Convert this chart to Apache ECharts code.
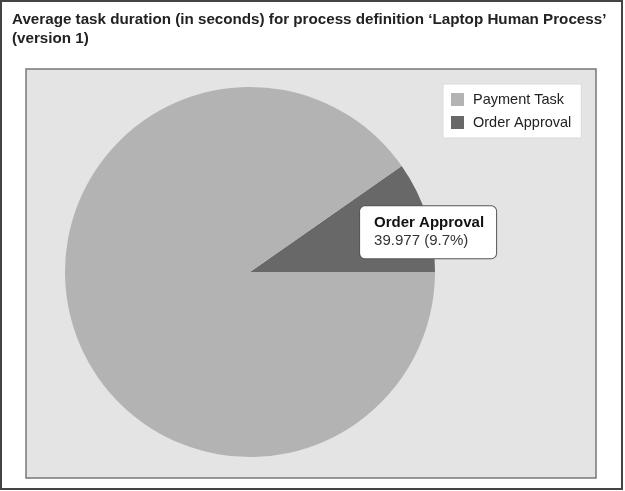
<!DOCTYPE html>
<html>
<head>
<meta charset="utf-8">
<script src="https://cdn.jsdelivr.net/npm/echarts@6/dist/echarts.min.js"></script>
<style>
html,body{margin:0;padding:0;background:#fff;}
#chart{width:625px;height:491px;}
</style>
</head>
<body>
<div id="chart"></div>
<script>
const titleText = "Average task duration (in seconds) for process definition \u2018Laptop Human Process\u2019\n(version 1)";
const categories = ['Payment Task', 'Order Approval'];
const durations = [372.15, 39.977];
const sliceColors = ['#b3b3b3', '#686868'];
const labelledCategory = 'Order Approval';

const FONT = "'Liberation Sans', Arial, sans-serif";

// Slices are drawn counter-clockwise from 3 o'clock, Order Approval first
const drawOrder = [1, 0];
const pieData = drawOrder.map(i => ({
  name: categories[i],
  value: durations[i],
  itemStyle: { color: sliceColors[i] },
  label: { show: categories[i] === labelledCategory }
}));

const chart = echarts.init(document.getElementById('chart'), null, { renderer: 'canvas' });
chart.setOption({
  animation: false,
  backgroundColor: '#ffffff',
  title: {
    text: titleText,
    left: 12,
    top: 10,
    padding: 0,
    textStyle: { fontFamily: FONT, fontSize: 15.2, fontWeight: 'bold', color: '#222', lineHeight: 19 }
  },
  graphic: [
    { type: 'rect', z: -10, shape: { x: 1, y: 1, width: 621, height: 488 },
      style: { fill: 'none', stroke: '#444', lineWidth: 2 } },
    { type: 'rect', z: -10, shape: { x: 26, y: 69, width: 570, height: 409 },
      style: { fill: '#e4e4e4', stroke: '#777', lineWidth: 1.5 } }
  ],
  legend: {
    data: categories,
    orient: 'vertical',
    left: 443,
    top: 84,
    padding: [8, 10, 8, 8],
    itemGap: 8,
    itemWidth: 21,
    itemHeight: 13,
    icon: 'path://M0,0h10v10h-10z',
    backgroundColor: '#ffffff',
    borderColor: '#dadada',
    borderWidth: 1,
    textStyle: { fontFamily: FONT, fontSize: 14.5, color: '#222', lineHeight: 15 }
  },
  series: [{
    type: 'pie',
    center: [250, 272],
    radius: 185,
    clockwise: false,
    startAngle: 0,
    percentPrecision: 1,
    avoidLabelOverlap: false,
    emphasis: { disabled: true },
    silent: true,
    labelLine: { show: false },
    label: {
      show: false,
      position: 'inside',
      offset: [87, -11],
      formatter: '{t|{b}}\n{v|{c} ({d}%)}',
      backgroundColor: '#ffffff',
      borderColor: '#555',
      borderWidth: 1,
      borderRadius: 5,
      padding: [8, 14, 8, 14],
      rich: {
        t: { fontFamily: FONT, fontSize: 15, fontWeight: 'bold', color: '#111', lineHeight: 18, width: 108, align: 'left' },
        v: { fontFamily: FONT, fontSize: 15, color: '#333', lineHeight: 18, width: 108, align: 'left' }
      }
    },
    data: pieData
  }]
});
</script>
</body>
</html>
